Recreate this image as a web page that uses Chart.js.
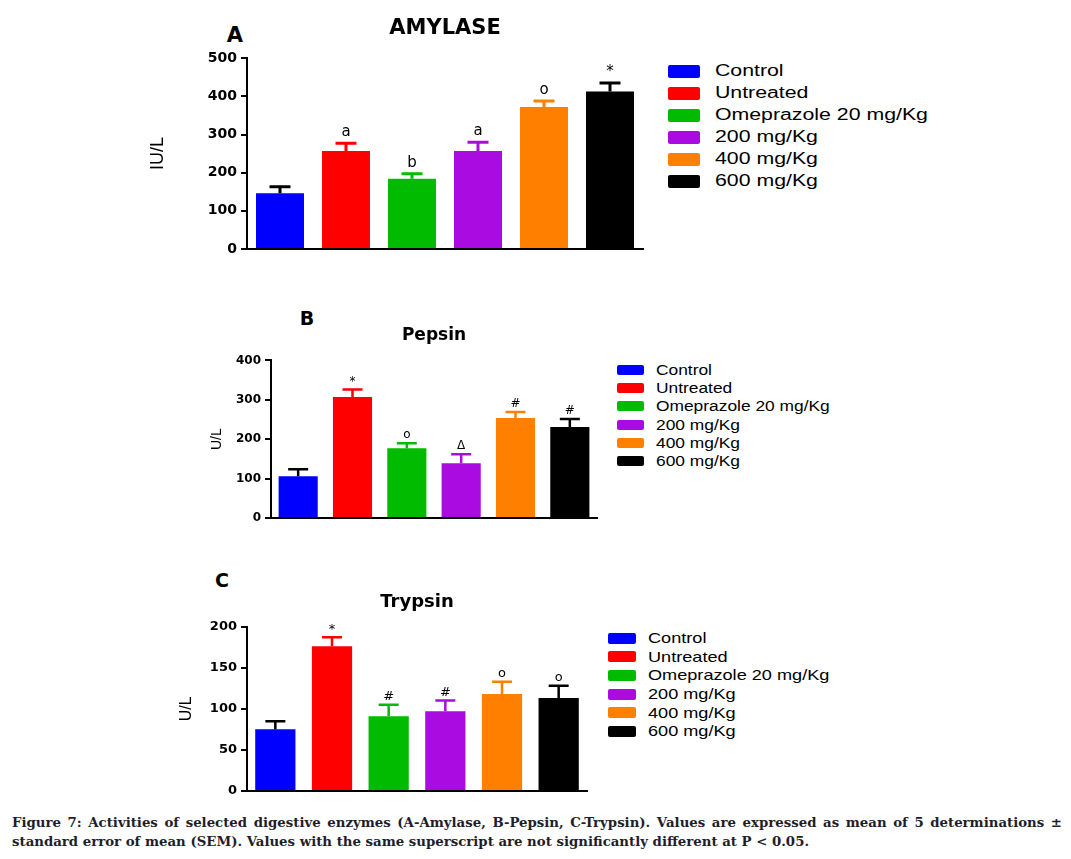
<!DOCTYPE html>
<html>
<head>
<meta charset="utf-8">
<script src="https://cdn.jsdelivr.net/npm/chart.js@4.4.0/dist/chart.umd.min.js"></script>
<style>
  body { margin: 0; background: #fff; font-family: "Liberation Sans", Arial, sans-serif; }
  #page { position: relative; width: 1071px; height: 859px; overflow: hidden; }
  canvas { position: absolute; }
  .letter { position: absolute; font-family: "DejaVu Sans", sans-serif; font-weight: bold; color: #000; transform: translate(-50%, -50%); }
  .legend { position: absolute; color: #000; }
  .legend div { display: flex; align-items: center; white-space: nowrap; }
  .legend span.sw { display: inline-block; border-radius: 2px; flex: none; }
  .legend span.tx { display: inline-block; transform-origin: left center; }
  #caption { position: absolute; left: 12px; top: 813px; width: 1050px;
    font-family: "DejaVu Serif", serif; font-weight: bold; font-size: 13.3px; line-height: 19px; color: #1e1e2a; }
  #caption .l1 { text-align: justify; text-align-last: justify; }
</style>
</head>
<body>
<div id="page">
  <div class="letter" style="left:235px;top:35px;font-size:21px;">A</div>
  <div class="letter" style="left:307px;top:318px;font-size:19px;">B</div>
  <div class="letter" style="left:222px;top:580px;font-size:19px;">C</div>

  <canvas id="chartA" width="530" height="275" style="left:130px;top:0px;"></canvas>
  <canvas id="chartB" width="410" height="240" style="left:200px;top:290px;"></canvas>
  <canvas id="chartC" width="440" height="245" style="left:160px;top:560px;"></canvas>

  <div class="legend" id="legendA" style="left:668px;top:60px;font-size:16px;"></div>
  <div class="legend" id="legendB" style="left:617px;top:361px;font-size:14px;"></div>
  <div class="legend" id="legendC" style="left:608px;top:629px;font-size:14.5px;"></div>

  <div id="caption">
    <div class="l1">Figure 7: Activities of selected digestive enzymes (A-Amylase, B-Pepsin, C-Trypsin). Values are expressed as mean of 5 determinations ±</div>
    <div>standard error of mean (SEM). Values with the same superscript are not significantly different at P &lt; 0.05.</div>
  </div>
</div>

<script>
const groups = ['Control', 'Untreated', 'Omeprazole 20 mg/Kg', '200 mg/Kg', '400 mg/Kg', '600 mg/Kg'];

const amylaseMean = [146, 257, 184, 257, 372, 413];
const amylaseErr = [17, 20, 13, 23, 16, 22];
const amylaseMarks = ['', 'a', 'b', 'a', 'o', '*'];

const pepsinMean = [106, 307, 177, 139, 254, 231];
const pepsinErr = [18, 19, 13, 23, 15, 20];
const pepsinMarks = ['', '*', 'o', '\u0394', '#', '#'];

const trypsinMean = [75, 176, 91, 97, 118, 113];
const trypsinErr = [10, 11, 14, 13, 15, 15];
const trypsinMarks = ['', '*', '#', '#', 'o', 'o'];

const barColors = ['#0000ff', '#ff0000', '#00bb00', '#aa0be0', '#ff8000', '#000000'];
const errColors = ['#000000', '#ff0000', '#00bb00', '#aa0be0', '#ff8000', '#000000'];

function makeLegend(id, boxW, boxH, gap, rowH, stretch) {
  const el = document.getElementById(id);
  groups.forEach((g, i) => {
    const row = document.createElement('div');
    row.style.height = rowH + 'px';
    const sw = document.createElement('span');
    sw.className = 'sw';
    sw.style.width = boxW + 'px';
    sw.style.height = boxH + 'px';
    sw.style.background = barColors[i];
    sw.style.marginRight = gap + 'px';
    row.appendChild(sw);
    const tx = document.createElement('span');
    tx.className = 'tx';
    tx.style.transform = 'scaleX(' + stretch + ')';
    tx.textContent = g;
    row.appendChild(tx);
    el.appendChild(row);
  });
}

function errorPlugin(means, errs, marks, lw, cap, markFont, markGap) {
  return {
    id: 'errorBars',
    afterDatasetsDraw(chart) {
      const ctx = chart.ctx;
      const y = chart.scales.y;
      const meta = chart.getDatasetMeta(0);
      ctx.save();
      meta.data.forEach((bar, i) => {
        const top = y.getPixelForValue(means[i] + errs[i]);
        ctx.strokeStyle = errColors[i];
        ctx.lineWidth = lw;
        ctx.beginPath();
        ctx.moveTo(bar.x, bar.y);
        ctx.lineTo(bar.x, top);
        ctx.moveTo(bar.x - cap / 2, top);
        ctx.lineTo(bar.x + cap / 2, top);
        ctx.stroke();
        if (marks[i]) {
          ctx.fillStyle = '#000';
          ctx.font = markFont;
          ctx.textAlign = 'center';
          ctx.textBaseline = 'middle';
          ctx.fillText(marks[i], bar.x, top - markGap);
        }
      });
      ctx.restore();
    }
  };
}

function makeChart(id, c) {
  return new Chart(document.getElementById(id), {
    type: 'bar',
    data: {
      labels: groups,
      datasets: [{
        data: c.means,
        backgroundColor: barColors,
        borderWidth: 0,
        barPercentage: c.barPct,
        categoryPercentage: 1
      }]
    },
    options: {
      responsive: false,
      animation: false,
      layout: { padding: c.pad },
      plugins: {
        legend: { display: false },
        tooltip: { enabled: false },
        title: {
          display: true,
          text: c.title,
          fullSize: false,
          color: '#000',
          font: { family: 'DejaVu Sans', size: c.titleSize, weight: 'bold' },
          padding: c.titlePad
        }
      },
      scales: {
        x: {
          grid: { display: false },
          ticks: { display: false },
          border: { color: '#000', width: 2 },
          afterFit(s) { s.height = 0; }
        },
        y: {
          min: 0,
          max: c.max,
          ticks: {
            stepSize: c.step,
            color: '#000',
            padding: 4,
            font: { family: 'DejaVu Sans', size: c.tickSize, weight: 'bold' }
          },
          grid: { drawOnChartArea: false, color: '#000', lineWidth: 2, tickLength: 6 },
          border: { color: '#000', width: 2 },
          title: {
            display: true,
            text: c.yTitle,
            color: '#000',
            font: { family: 'Liberation Sans', size: c.yTitleSize },
            padding: { top: c.yTitlePad, bottom: 0 }
          },
          afterFit(s) { s.width = c.yWidth; }
        }
      }
    },
    plugins: [errorPlugin(c.means, c.errs, c.marks, c.lw, c.cap, c.markFont, c.markGap)]
  });
}

makeChart('chartA', {
  means: amylaseMean, errs: amylaseErr, marks: amylaseMarks,
  title: 'AMYLASE', titleSize: 21, titlePad: { top: 16, bottom: 17 },
  yTitle: 'IU/L', yTitleSize: 18, yTitlePad: 17, yWidth: 117,
  max: 500, step: 100, tickSize: 14,
  pad: { left: 0, right: 17, top: 0, bottom: 26 },
  barPct: 0.727, lw: 3, cap: 21, markFont: '15px "DejaVu Sans"', markGap: 11
});

makeChart('chartB', {
  means: pepsinMean, errs: pepsinErr, marks: pepsinMarks,
  title: 'Pepsin', titleSize: 17, titlePad: { top: 35, bottom: 15 },
  yTitle: 'U/L', yTitleSize: 14, yTitlePad: 9, yWidth: 71,
  max: 400, step: 100, tickSize: 12,
  pad: { left: 0, right: 13, top: 0, bottom: 12 },
  barPct: 0.72, lw: 2.5, cap: 20, markFont: '12px "DejaVu Sans"', markGap: 8
});

makeChart('chartC', {
  means: trypsinMean, errs: trypsinErr, marks: trypsinMarks,
  title: 'Trypsin', titleSize: 18, titlePad: { top: 32, bottom: 13 },
  yTitle: 'U/L', yTitleSize: 16, yTitlePad: 17, yWidth: 87,
  max: 200, step: 50, tickSize: 13,
  pad: { left: 0, right: 13, top: 0, bottom: 14 },
  barPct: 0.71, lw: 2.5, cap: 20, markFont: '13px "DejaVu Sans"', markGap: 8
});

makeLegend('legendA', 32, 13, 15, 22, 1.33);
makeLegend('legendB', 27, 10, 12, 18.2, 1.24);
makeLegend('legendC', 28, 11, 12, 18.6, 1.25);
</script>
</body>
</html>
